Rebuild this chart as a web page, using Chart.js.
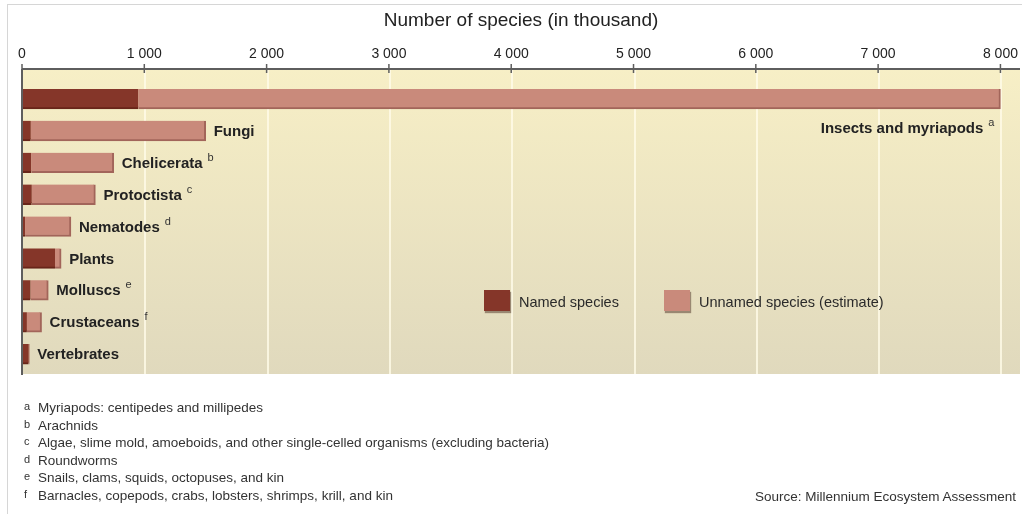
<!DOCTYPE html>
<html>
<head>
<meta charset="utf-8">
<script src="https://cdn.jsdelivr.net/npm/chart.js@4.4.0/dist/chart.umd.min.js"></script>
<style>
    html, body { margin: 0; padding: 0; background: #fff; }
    body { width: 1022px; height: 514px; position: relative; overflow: hidden; font-family: "Liberation Sans", Arial, sans-serif; color: #333; }
    #frame { position: absolute; left: 7px; top: 4px; width: 1020px; height: 520px; border-top: 1px solid #d6d6d6; border-left: 1px solid #d6d6d6; }
    #chart { position: absolute; left: 0; top: 0; }
    .legend-box { position: absolute; width: 26px; height: 21px; box-shadow: 1px 2px 1px rgba(60, 30, 20, 0.45); }
    .legend-text { position: absolute; font-size: 14.5px; line-height: 18px; color: #2a2a2a; }
    .note { position: absolute; left: 0; font-size: 13.5px; line-height: 16px; white-space: nowrap; color: #333; }
    .note .mark { position: absolute; left: 24px; top: -2px; font-size: 11px; }
    .note .text { position: absolute; left: 38px; top: 0; }
    #source { position: absolute; right: 6px; top: 489px; font-size: 13.5px; line-height: 16px; color: #333; white-space: nowrap; }
</style>
</head>
<body>
<div id="frame"></div>
<canvas id="chart" width="1022" height="514"></canvas>
<div id="legend"></div>
<div id="notes"></div>
<div id="source">Source: Millennium Ecosystem Assessment</div>
<script>
const categories = ['Insects and myriapods', 'Fungi', 'Chelicerata', 'Protoctista', 'Nematodes', 'Plants', 'Molluscs', 'Crustaceans', 'Vertebrates'];
const noteMarks = ['a', '', 'b', 'c', 'd', '', 'e', 'f', ''];
// thousands of species
const namedSpecies = [950, 72, 75, 80, 25, 270, 70, 40, 55];
const unnamedSpecies = [7050, 1430, 675, 520, 375, 50, 145, 120, 5];
const tickValues = [0, 1000, 2000, 3000, 4000, 5000, 6000, 7000, 8000];
const seriesNames = ['Named species', 'Unnamed species (estimate)'];
const footnotes = [
    ['a', 'Myriapods: centipedes and millipedes'],
    ['b', 'Arachnids'],
    ['c', 'Algae, slime mold, amoeboids, and other single-celled organisms (excluding bacteria)'],
    ['d', 'Roundworms'],
    ['e', 'Snails, clams, squids, octopuses, and kin'],
    ['f', 'Barnacles, copepods, crabs, lobsters, shrimps, krill, and kin']
];

const FONT = "'Liberation Sans', Arial, sans-serif";
const NAMED_COLOR = '#853629';
const UNNAMED_COLOR = '#c98a7b';

const formatTick = (v) => String(v).replace(/\B(?=(\d{3})+(?!\d))/g, ' ');

// beige plot panel, gridlines and axis lines
const backdrop = {
    id: 'backdrop',
    beforeDatasetsDraw(chart) {
        const { ctx, chartArea: a, scales: { x } } = chart;
        const top = a.top - 14;
        const bottom = a.bottom + 4;
        ctx.save();
        const g = ctx.createLinearGradient(0, top, 0, bottom);
        g.addColorStop(0, '#f7efc6');
        g.addColorStop(1, '#e0d9bd');
        ctx.fillStyle = g;
        ctx.fillRect(a.left, top, a.right - a.left, bottom - top);

        ctx.strokeStyle = 'rgba(255, 251, 232, 0.8)';
        ctx.lineWidth = 2;
        tickValues.forEach(v => {
            if (v === 0) return;
            const px = Math.round(x.getPixelForValue(v)) + 1;
            ctx.beginPath();
            ctx.moveTo(px, top);
            ctx.lineTo(px, bottom);
            ctx.stroke();
        });
        ctx.restore();
    },
    afterDatasetsDraw(chart) {
        const { ctx, chartArea: a, scales: { x } } = chart;
        const top = a.top - 14;
        const bottom = a.bottom + 5;
        ctx.save();
        ctx.strokeStyle = '#5e5e5e';
        ctx.lineWidth = 2;
        ctx.beginPath();
        ctx.moveTo(a.left, top);
        ctx.lineTo(a.right, top);
        ctx.stroke();
        ctx.beginPath();
        ctx.moveTo(a.left, top);
        ctx.lineTo(a.left, bottom);
        ctx.stroke();
        ctx.lineWidth = 1.5;
        tickValues.forEach(v => {
            const px = x.getPixelForValue(v);
            ctx.beginPath();
            ctx.moveTo(px, top - 5);
            ctx.lineTo(px, top + 4);
            ctx.stroke();
        });
        ctx.restore();
    }
};

// category names written next to the end of each bar
const barLabels = {
    id: 'barLabels',
    afterDatasetsDraw(chart) {
        const { ctx, chartArea: a } = chart;
        const meta = chart.getDatasetMeta(1);
        ctx.save();
        ctx.textBaseline = 'middle';
        meta.data.forEach((bar, i) => {
            const label = categories[i];
            const mark = noteMarks[i];
            ctx.font = 'bold 15px ' + FONT;
            const w = ctx.measureText(label).width;
            ctx.font = '11px ' + FONT;
            const mw = mark ? ctx.measureText(mark).width + 5 : 0;
            let x0 = bar.x + 8;
            let y0 = bar.y + 1;
            if (x0 + w + mw > a.right) {
                // no room on the right: put it under the bar, right aligned
                x0 = bar.x - 6 - mw - w;
                y0 = bar.y + 30;
            }
            ctx.fillStyle = '#222';
            ctx.font = 'bold 15px ' + FONT;
            ctx.textAlign = 'left';
            ctx.fillText(label, x0, y0);
            if (mark) {
                ctx.fillStyle = '#333';
                ctx.font = '11px ' + FONT;
                ctx.fillText(mark, x0 + w + 5, y0 - 6);
            }
        });
        ctx.restore();
    }
};

new Chart(document.getElementById('chart'), {
    type: 'bar',
    data: {
        labels: categories,
        datasets: [{
            label: seriesNames[0],
            data: namedSpecies,
            backgroundColor: NAMED_COLOR,
            borderColor: '#682519',
            borderWidth: { top: 0, left: 0, right: 0, bottom: 2 },
            barThickness: 20
        }, {
            label: seriesNames[1],
            data: unnamedSpecies,
            backgroundColor: UNNAMED_COLOR,
            borderColor: '#a2655a',
            borderWidth: { top: 0, left: 0, right: 2, bottom: 2 },
            barThickness: 20
        }]
    },
    options: {
        indexAxis: 'y',
        responsive: false,
        animation: false,
        layout: { padding: { left: 22, right: 2, top: 0, bottom: 144 } },
        plugins: {
            legend: { display: false },
            tooltip: { enabled: false }
        },
        scales: {
            x: {
                position: 'top',
                stacked: true,
                min: 0,
                max: 8160,
                afterBuildTicks: (s) => { s.ticks = tickValues.map(v => ({ value: v })); },
                afterFit: (s) => {
                    s.height = 83;
                    s.paddingLeft = 0;
                    s.paddingRight = 0;
                },
                grid: { display: false, drawTicks: false },
                border: { display: false },
                ticks: {
                    padding: 20,
                    color: '#222',
                    font: { size: 14, family: FONT },
                    callback: (v) => formatTick(v)
                },
                title: {
                    display: true,
                    text: 'Number of species (in thousand)',
                    color: '#222',
                    font: { size: 19, family: FONT },
                    padding: { top: 9, bottom: 0 }
                }
            },
            y: { stacked: true, display: false }
        }
    },
    plugins: [backdrop, barLabels]
});

// legend inside the plot panel
const legend = document.getElementById('legend');
const legendItems = [
    { color: NAMED_COLOR, left: 484 },
    { color: UNNAMED_COLOR, left: 664 }
];
legendItems.forEach((item, i) => {
    const box = document.createElement('div');
    box.className = 'legend-box';
    box.style.left = item.left + 'px';
    box.style.top = '290px';
    box.style.background = item.color;
    legend.appendChild(box);
    const txt = document.createElement('div');
    txt.className = 'legend-text';
    txt.style.left = (item.left + 35) + 'px';
    txt.style.top = '293px';
    txt.textContent = seriesNames[i];
    legend.appendChild(txt);
});

// footnotes
const notes = document.getElementById('notes');
footnotes.forEach(([m, t], i) => {
    const row = document.createElement('div');
    row.className = 'note';
    row.style.top = (400 + i * 17.6) + 'px';
    row.innerHTML = '<span class="mark">' + m + '</span><span class="text">' + t + '</span>';
    notes.appendChild(row);
});
</script>
</body>
</html>
